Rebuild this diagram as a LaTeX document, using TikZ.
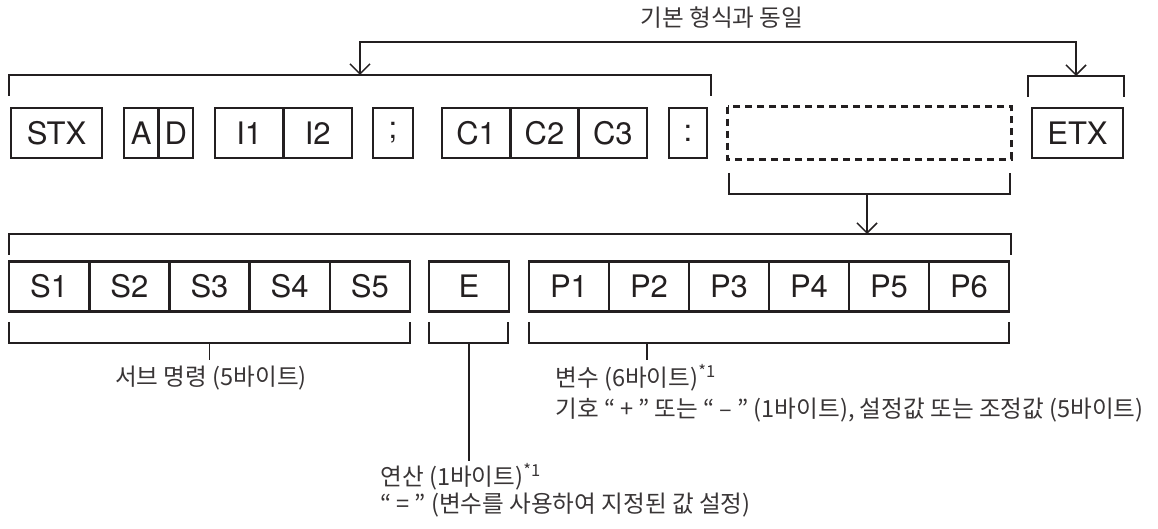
\documentclass[tikz,border=0pt]{standalone}
\usepackage{fontspec}
\setmainfont{Noto Sans CJK KR}
\newfontfamily\boxfont{TeX Gyre Heros}
\usetikzlibrary{arrows.meta}
\definecolor{ink}{HTML}{231F20}

\begin{document}
\begin{tikzpicture}[
    x=0.5pt, y=-0.5pt,
    >={Straight Barb[length=5pt, width=10pt]},
    cell/.style={
      draw=ink, line width=1.3pt, minimum height=25pt, inner sep=0pt,
      text=ink, font=\boxfont\fontsize{15.5}{16}\selectfont,
    },
    cellw/.style={minimum width=#1*0.5pt},
    slotbox/.style={draw=ink, line width=1.3pt, dash pattern=on 3.5pt off 2.5pt},
    brk/.style={draw=ink, line width=0.75pt},
    link/.style={draw=ink, line width=0.75pt},
    note/.style={font=\fontsize{11.8}{13}\selectfont, text=ink!90, inner sep=0pt},
  ]
  \useasboundingbox (0,0) rectangle (1158,529);
  \def\ra{133}      % centre line of the header row
  \def\rb{286.5}    % centre line of the body row
  \def\q{\kern2.5pt}% room inside the quotes

  % ===== header row =====
  \node[cell, cellw=91]   (stx)   at (56.5,\ra)   {STX};
  \node[cell, cellw=34.5] (ca)    at (141.25,\ra) {A};
  \node[cell, cellw=34.5] (cd)    at (175.75,\ra) {D};
  \node[cell, cellw=68.5] (i1)    at (249.25,\ra) {I1};
  \node[cell, cellw=68.5] (i2)    at (317.75,\ra) {I2};
  \node[cell, cellw=40]   (semi)  at (393,\ra)    {;};
  \foreach \i in {1,2,3} {
    \node[cell, cellw=68.33] (c\i) at ({442+68.33*(\i-0.5)},\ra) {C\i};
  }
  \node[cell, cellw=38]   (colon) at (688,\ra)    {:};
  \node[cell, cellw=281, draw=none] (slot) at (869.5,\ra) {};
  \draw[slotbox] (slot.north west) rectangle (slot.south east);
  \node[cell, cellw=91]   (etx)   at (1077.5,\ra) {ETX};

  % brackets over the header
  \draw[brk] (9,96) |- (711,75) -- (711,96);
  \draw[brk] (1028,97) |- (1124,76) -- (1124,97);
  \coordinate (hdrtop) at (360,75);
  \coordinate (etxtop) at (1076,76);
  \coordinate (rail)   at (718,42);
  \node[note] (title) at (722,18) {기본 형식과 동일};
  \draw[link, <->] (hdrtop) |- (rail) -| (etxtop);

  % bracket under the slot
  \draw[brk] (729,173) |- (1010,194) -- (1010,173);
  \coordinate (slotbot) at (867,194);

  % ===== body row =====
  \draw[brk] (9,255) |- (1011,234) -- (1011,255);
  \coordinate (bodytop) at (867,234);
  \draw[link, ->] (slotbot) -- (bodytop);

  \foreach \i in {1,...,5} {
    \node[cell, cellw=80.2] (s\i) at ({9+80.2*(\i-0.5)},\rb) {S\i};
  }
  \node[cell, cellw=80] (e) at (469,\rb) {E};
  \foreach \i in {1,...,6} {
    \node[cell, cellw=80] (p\i) at ({529+80*(\i-0.5)},\rb) {P\i};
  }

  % brackets under the body
  \draw[brk] (9,322) |- (410,343) -- (410,322);
  \draw[brk] (429,322) |- (508,343) -- (508,322);
  \draw[brk] (529,322) |- (1009,343) -- (1009,322);
  \draw[brk] (209.5,343) -- (209.5,360);
  \draw[brk] (469,343) -- (469,461);
  \draw[brk] (647,343) -- (647,360);

  % ===== notes =====
  \node[note]              (subtxt)  at (211,378) {서브 명령 (5바이트)};
  \node[note, anchor=west] (vartxt)  at (555,378) {변수 (6바이트)\textsuperscript{*1}};
  \node[note, anchor=west] (signtxt) at (555,410) {기호 “\q+\q” 또는 “\q–\q” (1바이트), 설정값 또는 조정값 (5바이트)};
  \node[note, anchor=west] (optxt)   at (380,477) {연산 (1바이트)\textsuperscript{*1}};
  \node[note, anchor=west] (eqtxt)   at (380,505) {“\q=\q” (변수를 사용하여 지정된 값 설정)};
\end{tikzpicture}
\end{document}
